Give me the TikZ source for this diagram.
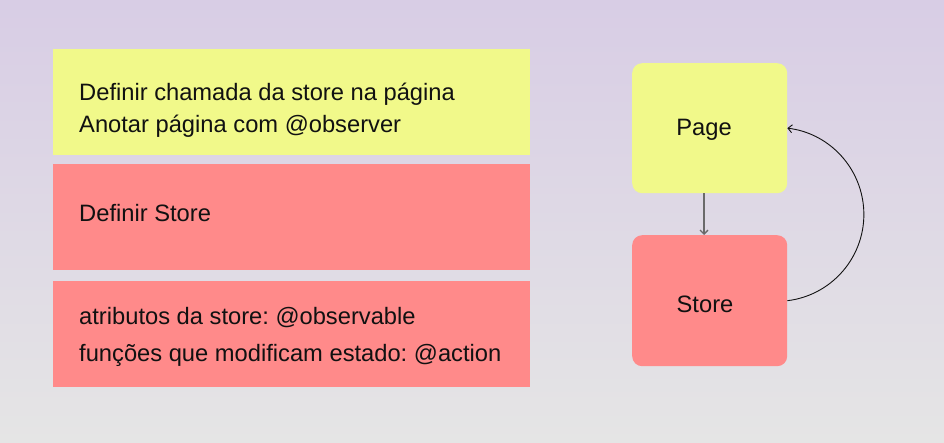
\documentclass[tikz,border=0pt]{standalone}
\usepackage{fontspec}
\setmainfont{Liberation Sans}
\usetikzlibrary{arrows.meta}
\frenchspacing
\definecolor{bgtop}{HTML}{D8CDE5}
\definecolor{bgbot}{HTML}{E5E5E5}
\definecolor{lemon}{HTML}{F1F98A}
\definecolor{salmon}{HTML}{FF8A8A}
\definecolor{ink}{HTML}{111111}
\definecolor{wire}{HTML}{6A6A6A}
\tikzset{
  band/.style={inner sep=0pt, minimum width=477bp, minimum height=106bp, anchor=north west},
  card/.style={rounded corners=10bp, inner sep=0pt, minimum width=155bp, minimum height=130bp, anchor=north west},
  txt/.style={text=ink, inner sep=0pt, anchor=base west, font=\fontsize{23.8}{28}\selectfont},
  lbl/.style={text=ink, inner sep=0pt, anchor=base, font=\fontsize{23.8}{28}\selectfont},
  down/.style={draw=wire, line width=1.3bp, -{Straight Barb[length=4bp,width=8bp]}},
  feedback/.style={draw=ink, line width=0.9bp, -{Straight Barb[length=4bp,width=8bp]}},
}

\begin{document}
\begin{tikzpicture}[x=1bp,y=-1bp]
  \shade[top color=bgtop, bottom color=bgbot] (0,0) rectangle (944,443);
  \useasboundingbox (0,0) rectangle (944,443);

  % steps on the left
  \node[band, fill=lemon]  (callband)  at (53,49)  {};
  \node[band, fill=salmon] (storeband) at (53,164) {};
  \node[band, fill=salmon] (attrband)  at (53,281) {};

  \node[txt] (calltxt) at (79,101) {Definir chamada da store na página};
  \node[txt] (obstxt)  at (79,133) {Anotar página com @observer};
  \node[txt] (deftxt)  at (79,222) {Definir Store};
  \node[txt] (attrtxt) at (79,325) {atributos da store: @observable};
  \node[txt] (acttxt)  at (79,362) {funções que modificam estado: @action};

  % page and store
  \node[card, fill=lemon]  (page)  at (632,63)  {};
  \node[card, fill=salmon, minimum height=131bp] (store) at (632,235) {};
  \node[lbl] (pagelbl)  at (704,136) {Page};
  \node[lbl] (storelbl) at (705,313) {Store};

  \draw[down] (page.south -| pagelbl) -- (store.north -| pagelbl);
  \draw[feedback] (store.east) arc[start angle=83.1, end angle=-83.1, radius=86.9];
\end{tikzpicture}
\end{document}
